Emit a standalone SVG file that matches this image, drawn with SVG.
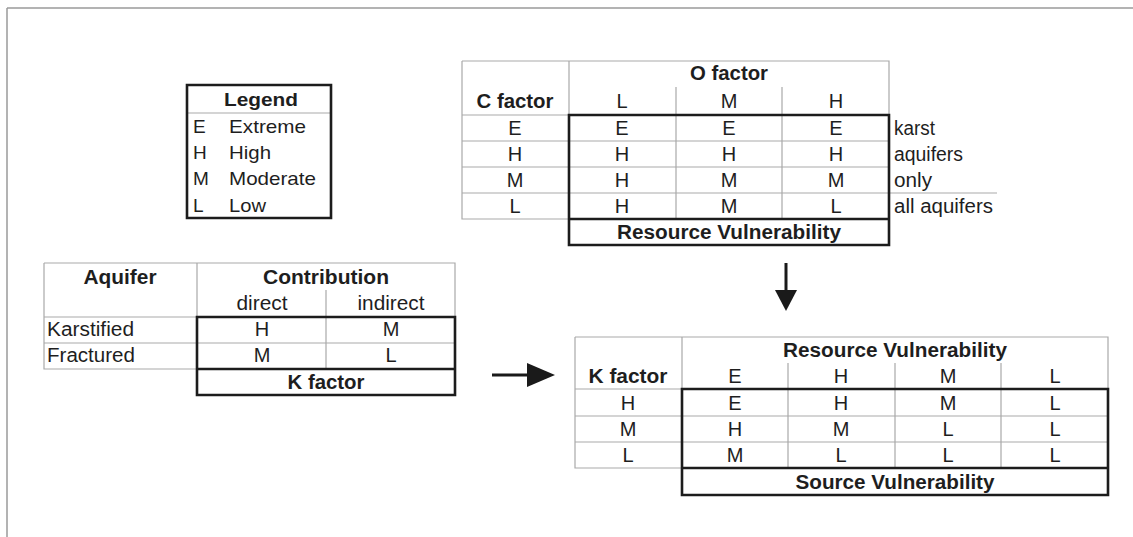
<svg xmlns="http://www.w3.org/2000/svg" width="1133" height="537" viewBox="0 0 1133 537">
<style>
.g{stroke:#a9a9a9;stroke-width:1.2;fill:none}
.k{stroke:#1c1c1c;stroke-width:2.6;fill:none}
.f{stroke:#9a9a9a;stroke-width:1.5;fill:none}
text{font-family:"Liberation Sans",Arial,sans-serif;font-size:20px;fill:#1e1e1e}
.s{font-size:19px}
.b{font-weight:bold}
.m{text-anchor:middle}
</style>
<rect width="1133" height="537" fill="#fff"/>
<g id="frame"><path class="f" d="M7 8H1133M7 8V537"/></g>

<g id="legend">
<path class="g" d="M187 113H331"/>
<path class="k" d="M187 85H331V218H187Z" stroke-width="2.2"/>
<text class="b m s" x="261" y="106" textLength="74" lengthAdjust="spacingAndGlyphs">Legend</text>
<text class="s" x="193" y="133">E</text><text class="s" x="229" y="133" textLength="77" lengthAdjust="spacingAndGlyphs">Extreme</text>
<text class="s" x="193" y="159">H</text><text class="s" x="229" y="159" textLength="42" lengthAdjust="spacingAndGlyphs">High</text>
<text class="s" x="193" y="185">M</text><text class="s" x="229" y="185" textLength="87" lengthAdjust="spacingAndGlyphs">Moderate</text>
<text class="s" x="193" y="212">L</text><text class="s" x="229" y="212" textLength="37" lengthAdjust="spacingAndGlyphs">Low</text>
</g>

<g id="o-table">
<path class="g" d="M462 61H889V115M462 61V219H569M569 61V115M462 115H569M462 141H889M462 167H889M462 193H997M676 87V219M782 87V219"/>
<path class="k" d="M569 115H889V245H569ZM569 219H889"/>
<text class="b m" x="729" y="80" textLength="78" lengthAdjust="spacingAndGlyphs">O factor</text>
<text class="b m" x="515" y="108" textLength="77" lengthAdjust="spacingAndGlyphs">C factor</text>
<text class="m" x="622" y="108">L</text><text class="m" x="729" y="108">M</text><text class="m" x="836" y="108">H</text>
<text class="m" x="515" y="135">E</text><text class="m" x="622" y="135">E</text><text class="m" x="729" y="135">E</text><text class="m" x="836" y="135">E</text>
<text class="m" x="515" y="161">H</text><text class="m" x="622" y="161">H</text><text class="m" x="729" y="161">H</text><text class="m" x="836" y="161">H</text>
<text class="m" x="515" y="187">M</text><text class="m" x="622" y="187">H</text><text class="m" x="729" y="187">M</text><text class="m" x="836" y="187">M</text>
<text class="m" x="515" y="213">L</text><text class="m" x="622" y="213">H</text><text class="m" x="729" y="213">M</text><text class="m" x="836" y="213">L</text>
<text class="b m" x="729" y="239" textLength="224" lengthAdjust="spacingAndGlyphs">Resource Vulnerability</text>
<text x="894" y="135" textLength="41" lengthAdjust="spacingAndGlyphs">karst</text>
<text x="894" y="161" textLength="69" lengthAdjust="spacingAndGlyphs">aquifers</text>
<text x="894" y="187" textLength="38" lengthAdjust="spacingAndGlyphs">only</text>
<text x="894" y="213" textLength="99" lengthAdjust="spacingAndGlyphs">all aquifers</text>
</g>

<g id="contribution-table">
<path class="g" d="M44 263H455V317M44 263V369H197M197 263V317M44 317H197M44 343H455M326 290V369"/>
<path class="k" d="M197 317H455V395H197ZM197 369H455"/>
<text class="b m" x="120" y="284" textLength="73" lengthAdjust="spacingAndGlyphs">Aquifer</text>
<text class="b m" x="326" y="284" textLength="126" lengthAdjust="spacingAndGlyphs">Contribution</text>
<text class="m" x="262" y="310" textLength="51" lengthAdjust="spacingAndGlyphs">direct</text>
<text class="m" x="391" y="310" textLength="67" lengthAdjust="spacingAndGlyphs">indirect</text>
<text x="47" y="336" textLength="87" lengthAdjust="spacingAndGlyphs">Karstified</text>
<text x="47" y="362" textLength="88" lengthAdjust="spacingAndGlyphs">Fractured</text>
<text class="m" x="262" y="336">H</text><text class="m" x="391" y="336">M</text>
<text class="m" x="262" y="362">M</text><text class="m" x="391" y="362">L</text>
<text class="b m" x="326" y="389" textLength="77" lengthAdjust="spacingAndGlyphs">K factor</text>
</g>

<g id="source-table">
<path class="g" d="M575 337H1108V389M575 337V468H682M682 337V389M575 389H682M575 416H1108M575 442H1108M788 363V468M895 363V468M1001 363V468"/>
<path class="k" d="M682 389H1108V495H682ZM682 468H1108"/>
<text class="b m" x="895" y="357" textLength="224" lengthAdjust="spacingAndGlyphs">Resource Vulnerability</text>
<text class="b m" x="628" y="383" textLength="79" lengthAdjust="spacingAndGlyphs">K factor</text>
<text class="m" x="735" y="383">E</text><text class="m" x="841" y="383">H</text><text class="m" x="948" y="383">M</text><text class="m" x="1055" y="383">L</text>
<text class="m" x="628" y="410">H</text><text class="m" x="735" y="410">E</text><text class="m" x="841" y="410">H</text><text class="m" x="948" y="410">M</text><text class="m" x="1055" y="410">L</text>
<text class="m" x="628" y="436">M</text><text class="m" x="735" y="436">H</text><text class="m" x="841" y="436">M</text><text class="m" x="948" y="436">L</text><text class="m" x="1055" y="436">L</text>
<text class="m" x="628" y="462">L</text><text class="m" x="735" y="462">M</text><text class="m" x="841" y="462">L</text><text class="m" x="948" y="462">L</text><text class="m" x="1055" y="462">L</text>
<text class="b m" x="895" y="489" textLength="199" lengthAdjust="spacingAndGlyphs">Source Vulnerability</text>
</g>

<g id="connectors" fill="#1a1a1a" stroke="#1a1a1a">
<path d="M786 263V292" stroke-width="3" fill="none"/>
<polygon points="775,290 797,290 786,311" stroke="none"/>
<path d="M492 375H530" stroke-width="3" fill="none"/>
<polygon points="527,363 527,387 555,375" stroke="none"/>
</g>
</svg>
